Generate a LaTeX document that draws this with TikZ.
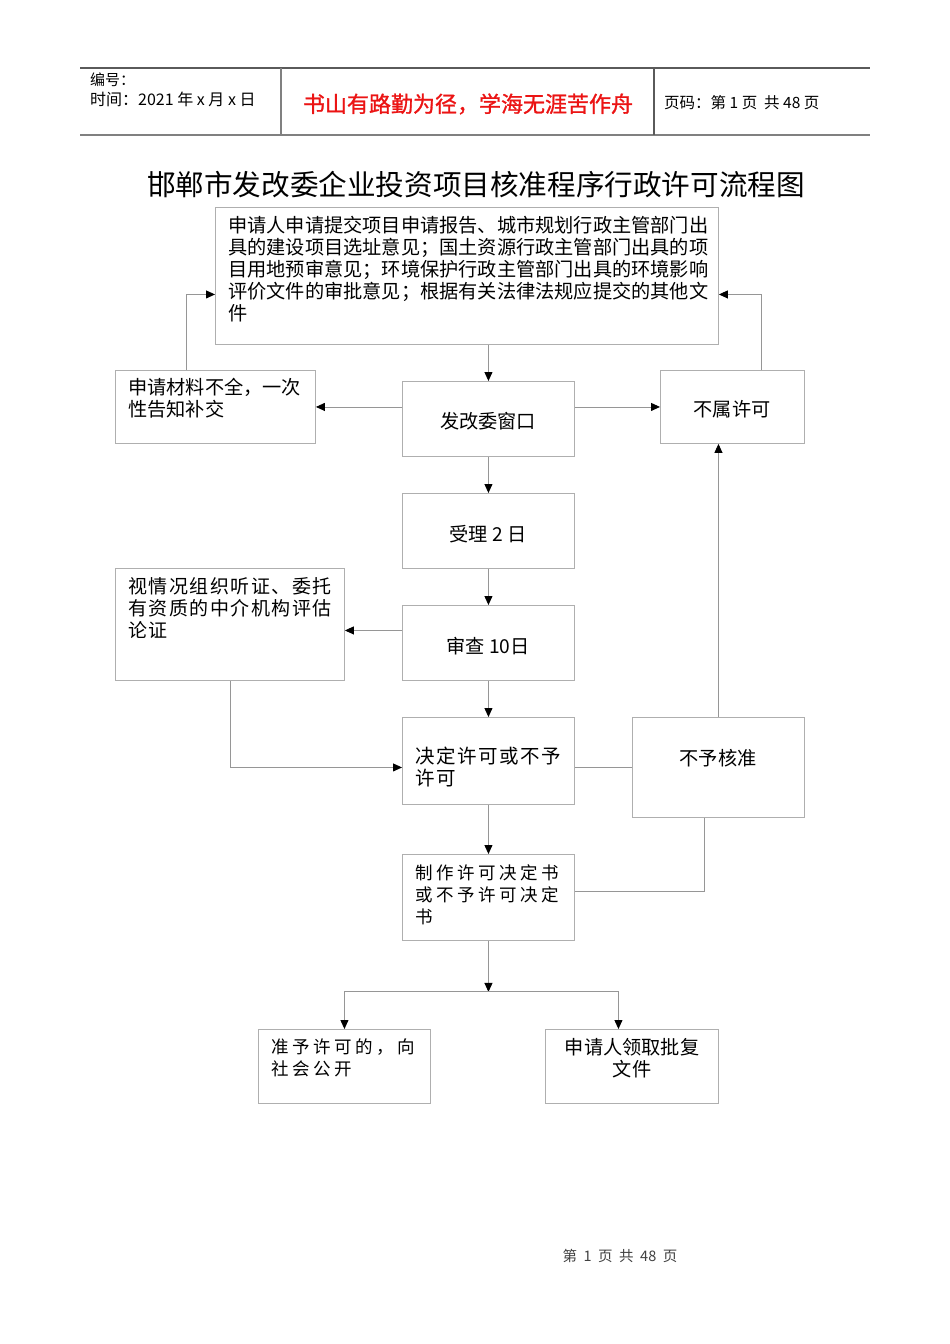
\documentclass[tikz,border=0pt]{standalone}
\usepackage{fontspec}
\newfontfamily\cjk{Noto Sans CJK SC}
\newfontfamily\cjkbold[FakeBold=1.2]{Noto Sans CJK SC}
\newfontfamily\cjkmid[LetterSpace=8]{Noto Sans CJK SC}
\newfontfamily\cjkwide[LetterSpace=20]{Noto Sans CJK SC}
\usetikzlibrary{arrows.meta,positioning}
\definecolor{boxgray}{RGB}{175,175,175}
\definecolor{linegray}{RGB}{150,150,150}
\definecolor{headgray}{RGB}{90,90,90}
\definecolor{mottored}{RGB}{235,20,20}

\tikzset{
  box/.style={draw=boxgray, line width=0.9pt, anchor=north west, inner sep=0pt},
  txt/.style={inner sep=0pt, align=left, font=\cjk\fontsize{19.2}{22}\selectfont},
  link/.style={draw=linegray, line width=0.9pt},
  arr/.style={link, -{Triangle[length=9pt,width=8pt,color=black]}},
  headline/.style={draw=headgray, line width=1.2pt}
}

\begin{document}
\begin{tikzpicture}[x=1pt, y=-1pt]
        \useasboundingbox (0,0) rectangle (950,1344);
        % Draw the header
        \draw[headline] (80,68) -- (870,68);
        \draw[headline, draw=gray] (80,135) -- (870,135);
        \draw[headline, draw=gray] (281,68) -- (281,135);
        \draw[headline] (654,68) -- (654,135);
        \node[txt, anchor=west, font=\cjk\fontsize{15}{18}\selectfont] (serial) at (90,80) {编号：};
        \node[txt, anchor=west, font=\cjk\fontsize{16}{18}\selectfont] (date) at (90,99) {时间：2021 年 x 月 x 日};
        \node[txt, font=\cjkbold\fontsize{22}{24}\selectfont, text=mottored] (motto) at (468,104) {书山有路勤为径，学海无涯苦作舟};
        \node[txt, anchor=west, font=\cjk\fontsize{15.5}{18}\selectfont] (pageno) at (664,103) {页码：第 1 页\ \ 共 48 页};
        % Title
        \node[txt, font=\cjk\fontsize{28.6}{32}\selectfont] (title) at (476,185) {邯郸市发改委企业投资项目核准程序行政许可流程图};
        % Draw the boxes
        \node[box, minimum width=503pt, minimum height=137pt] (apply) at (215,207) {};
        \node[box, minimum width=200pt, minimum height=73pt] (incomplete) at (115,370) {};
        \node[box, minimum width=172pt, minimum height=75pt] (window) at (402,381) {};
        \node[box, minimum width=144pt, minimum height=73pt] (outside) at (660,370) {};
        \node[box, minimum width=172pt, minimum height=75pt] (accept) at (402,493) {};
        \node[box, minimum width=229pt, minimum height=112pt] (hearing) at (115,568) {};
        \node[box, minimum width=172pt, minimum height=75pt] (review) at (402,605) {};
        \node[box, minimum width=172pt, minimum height=87pt] (decide) at (402,717) {};
        \node[box, minimum width=172pt, minimum height=100pt] (refuse) at (632,717) {};
        \node[box, minimum width=172pt, minimum height=86pt] (draft) at (402,854) {};
        \node[box, minimum width=172pt, minimum height=74pt] (publish) at (258,1029) {};
        \node[box, minimum width=173pt, minimum height=74pt] (collect) at (545,1029) {};
        % Label the boxes
        \node[txt, anchor=north west] (applytext) at (228,216)
          {申请人申请提交项目申请报告、城市规划行政主管部门出\\
           具的建设项目选址意见；国土资源行政主管部门出具的项\\
           目用地预审意见；环境保护行政主管部门出具的环境影响\\
           评价文件的审批意见；根据有关法律法规应提交的其他文\\
           件};
        \node[txt, anchor=north west] (incompletetext) at (128,378) {申请材料不全，一次\\性告知补交};
        \node[txt] (windowtext) at (488,421) {发改委窗口};
        \node[txt] (outsidetext) at (732,409) {不属许可};
        \node[txt] (accepttext) at (488,534) {受理 2 日};
        \node[txt, anchor=north west, font=\cjkmid\fontsize{19}{22}\selectfont] (hearingtext) at (128,577) {视情况组织听证、委托\\有资质的中介机构评估\\论证};
        \node[txt] (reviewtext) at (488,646) {审查 10日};
        \node[txt, anchor=north west, font=\cjkmid\fontsize{19.5}{22}\selectfont] (decidetext) at (415,747) {决定许可或不予\\许可};
        \node[txt] (refusetext) at (718,758) {不予核准};
        \node[txt, anchor=north west, font=\cjkwide\fontsize{17.5}{22}\selectfont] (drafttext) at (415,864) {制作许可决定书\\或不予许可决定\\书};
        \node[txt, anchor=north west, font=\cjkwide\fontsize{17.5}{22}\selectfont] (publishtext) at (271,1039) {准予许可的，向\\社会公开};
        \node[txt, anchor=north, align=center] (collecttext) at (632,1038) {申请人领取批复\\文件};
        % Draw the connectors
        \draw[arr] (window.north |- apply.south) -- (window.north);
        \draw[arr] (window.west |- incomplete.east) -- (incomplete.east);
        \draw[arr] (window.east |- outside.west) -- (outside.west);
        \draw[arr] ([xshift=-29pt]incomplete.north) |- ([yshift=-18.5pt]apply.west);
        \draw[arr] ([xshift=29pt]outside.north) |- ([yshift=-18.5pt]apply.east);
        \draw[arr] (window.south) -- (accept.north);
        \draw[arr] (accept.south) -- (review.north);
        \coordinate (reviewleft) at ([yshift=12.5pt]review.west);
        \draw[arr] (reviewleft) -- (reviewleft -| hearing.east);
        \draw[arr] (hearing.south) |- ([yshift=-6.5pt]decide.west);
        \draw[arr] (review.south) -- (decide.north);
        \draw[link] (decide.east |- refuse.west) -- (refuse.west);
        \draw[arr] (refuse.north) -- (refuse.north |- outside.south);
        \draw[link] ([xshift=-14pt]refuse.south) |- ([yshift=6pt]draft.east);
        \draw[arr] (decide.south) -- (draft.north);
        \coordinate (split) at ([yshift=-51pt]draft.south);
        \draw[arr] (draft.south) -- (split);
        \draw[arr] (split) -| (publish.north);
        \draw[arr] (split) -| ([xshift=-13.5pt]collect.north);
        % Footer
        \node[txt, font=\cjk\fontsize{14.5}{16}\selectfont, text=black!75] (footer) at (620,1256) {第\ \ 1\ \ 页\ \ 共\ \ 48\ \ 页};
\end{tikzpicture}
\end{document}
